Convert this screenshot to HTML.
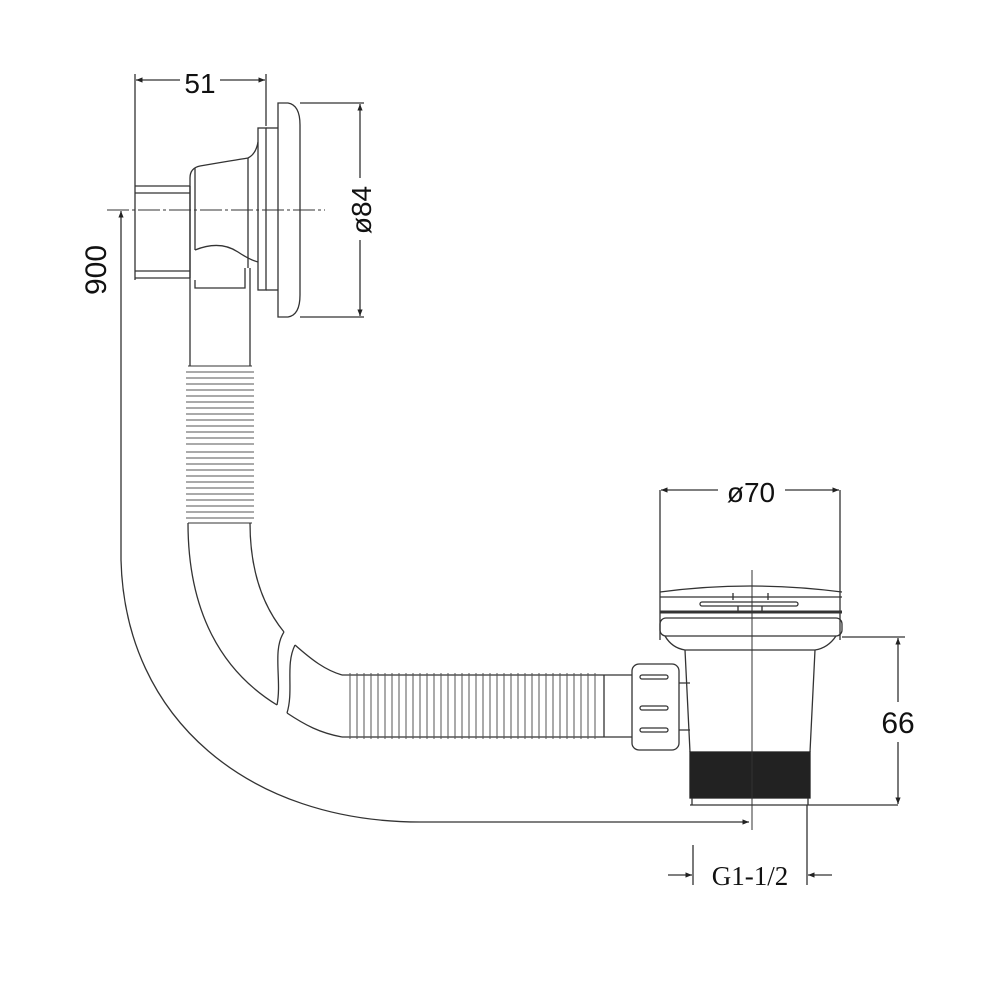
<!DOCTYPE html>
<html><head><style>html,body{margin:0;padding:0;background:#fff}svg{display:block}</style></head>
<body>
<svg width="1000" height="1000" viewBox="0 0 1000 1000" xmlns="http://www.w3.org/2000/svg">
<defs>
<marker id="a" viewBox="0 0 10 10" refX="10" refY="5" markerWidth="9" markerHeight="5" orient="auto-start-reverse"><path d="M0,1 L10,5 L0,9 Z" fill="#222"/></marker>
</defs>
<g fill="none" stroke="#333" stroke-width="1.3">
<line x1="135" y1="74" x2="135" y2="280"/>
<line x1="266" y1="74" x2="266" y2="126"/>
<line x1="136" y1="80" x2="180" y2="80" marker-start="url(#a)"/>
<line x1="220" y1="80" x2="265" y2="80" marker-end="url(#a)"/>
<path d="M135,186 H190 M135,193 H190 M135,271 H190 M135,278 H190"/>
<line x1="190" y1="186" x2="190" y2="278"/>
<path d="M190,278 V178 Q190,168 200,166 Q235,160 248,158 Q256,154 258,142"/>
<path d="M195,250 Q220,240 238,252 Q250,260 258,262"/>
<line x1="195" y1="168" x2="195" y2="250"/>
<line x1="248" y1="158" x2="248" y2="268"/>
<rect x="258" y="128" width="8" height="162"/>
<line x1="266" y1="128" x2="278" y2="128"/><line x1="266" y1="290" x2="278" y2="290"/>
<path d="M278,103 H288 Q300,105 300,125 V295 Q300,315 288,317 H278 Z"/>
<line x1="107" y1="210" x2="325" y2="210" stroke-dasharray="22,3,3,3" stroke-width="1"/>
<line x1="300" y1="103" x2="364" y2="103"/><line x1="300" y1="317" x2="364" y2="317"/>
<line x1="360" y1="104" x2="360" y2="178" marker-start="url(#a)"/>
<line x1="360" y1="240" x2="360" y2="316" marker-end="url(#a)"/>
<path d="M121,211 V560 C125,720 250,822 420,822 H749" marker-start="url(#a)" marker-end="url(#a)"/>
<path d="M195,280 V288 H245 V268"/>
<path d="M190,278 V366 M250,268 V366"/>
<path d="M188,366 H252 M188,523 H252" stroke-width="1.1"/>
<path d="M188,523 C188,610 220,670 277,705"/>
<path d="M250,523 C250,570 262,605 284,632"/>
<path d="M284,632 C272,650 282,680 277,705" />
<path d="M295,645 C285,665 294,690 287,713"/>
<path d="M295,645 C312,660 325,670 342,675"/>
<path d="M287,713 C305,725 320,733 342,737"/>
<path d="M342,675 H604 M342,737 H604"/>
<path d="M604,675 H632 M604,737 H632"/>
<line x1="604" y1="675" x2="604" y2="737"/>
<rect x="632" y="664" width="47" height="86" rx="7"/>
<rect x="640" y="675" width="28" height="4" rx="2"/>
<rect x="640" y="706" width="28" height="4" rx="2"/>
<rect x="640" y="728" width="28" height="4" rx="2"/>
<path d="M679,683 H690 M679,730 H690"/>
<path d="M660,592 Q750,580 842,592"/>
<line x1="660" y1="597" x2="842" y2="597"/>
<line x1="660" y1="490" x2="660" y2="640"/>
<line x1="840" y1="490" x2="840" y2="640"/>
<rect x="700" y="602" width="98" height="4" rx="2"/>
<path d="M733,593 V600 M768,593 V600 M738,606 V612 M762,606 V612"/>
<line x1="660" y1="612" x2="842" y2="612" stroke-width="3"/>
<rect x="660" y="618" width="182" height="18" rx="6"/>
<path d="M665,636 Q672,648 685,650 H815 Q828,648 836,636"/>
<path d="M685,650 L690,752 M815,650 L810,752"/>
<rect x="690" y="752" width="120" height="46" fill="#222" stroke="#222"/>
<line x1="690" y1="805" x2="898" y2="805"/>
<line x1="692" y1="798" x2="692" y2="805"/><line x1="808" y1="798" x2="808" y2="805"/>
<line x1="752" y1="570" x2="752" y2="830" stroke-width="1"/>
<line x1="661" y1="490" x2="718" y2="490" marker-start="url(#a)"/>
<line x1="785" y1="490" x2="839" y2="490" marker-end="url(#a)"/>
<line x1="842" y1="637" x2="905" y2="637"/>
<line x1="898" y1="638" x2="898" y2="702" marker-start="url(#a)"/>
<line x1="898" y1="742" x2="898" y2="804" marker-end="url(#a)"/>
<line x1="693" y1="845" x2="693" y2="885"/>
<line x1="807" y1="805" x2="807" y2="885"/>
<line x1="668" y1="875" x2="692" y2="875" marker-end="url(#a)"/>
<line x1="832" y1="875" x2="808" y2="875" marker-end="url(#a)"/>
</g>
<g stroke="#555" stroke-width="1" fill="none">
<path d="M186,372 h68 M186,378 h68 M186,384 h68 M186,390 h68 M186,396 h68 M186,402 h68 M186,408 h68 M186,414 h68 M186,420 h68 M186,426 h68 M186,432 h68 M186,438 h68 M186,444 h68 M186,452 h68 M186,458 h68 M186,464 h68 M186,470 h68 M186,476 h68 M186,482 h68 M186,488 h68 M186,494 h68 M186,500 h68 M186,506 h68 M186,512 h68 M186,518 h68"/>
<path d="M350,673v66 M357,673v66 M364,673v66 M371,673v66 M378,673v66 M385,673v66 M392,673v66 M399,673v66 M406,673v66 M413,673v66 M420,673v66 M427,673v66 M434,673v66 M441,673v66 M448,673v66 M455,673v66 M462,673v66 M469,673v66 M476,673v66 M483,673v66 M490,673v66 M497,673v66 M504,673v66 M511,673v66 M518,673v66 M525,673v66 M532,673v66 M539,673v66 M546,673v66 M553,673v66 M560,673v66 M567,673v66 M574,673v66 M581,673v66 M588,673v66 M595,673v66"/>
</g>
<g font-family="Liberation Sans, sans-serif" fill="#111">
<text x="200" y="93" font-size="28" text-anchor="middle">51</text>
<text x="751" y="502" font-size="28" text-anchor="middle">ø70</text>
<text x="898" y="733" font-size="30" text-anchor="middle">66</text>
<text transform="translate(371,210) rotate(-90)" font-size="28" text-anchor="middle">ø84</text>
<text transform="translate(106,270) rotate(-90)" font-size="30" text-anchor="middle">900</text>
<text x="750" y="885" font-size="27" font-family="Liberation Serif, serif" text-anchor="middle">G1-1/2</text>
</g>
</svg>
</body></html>
